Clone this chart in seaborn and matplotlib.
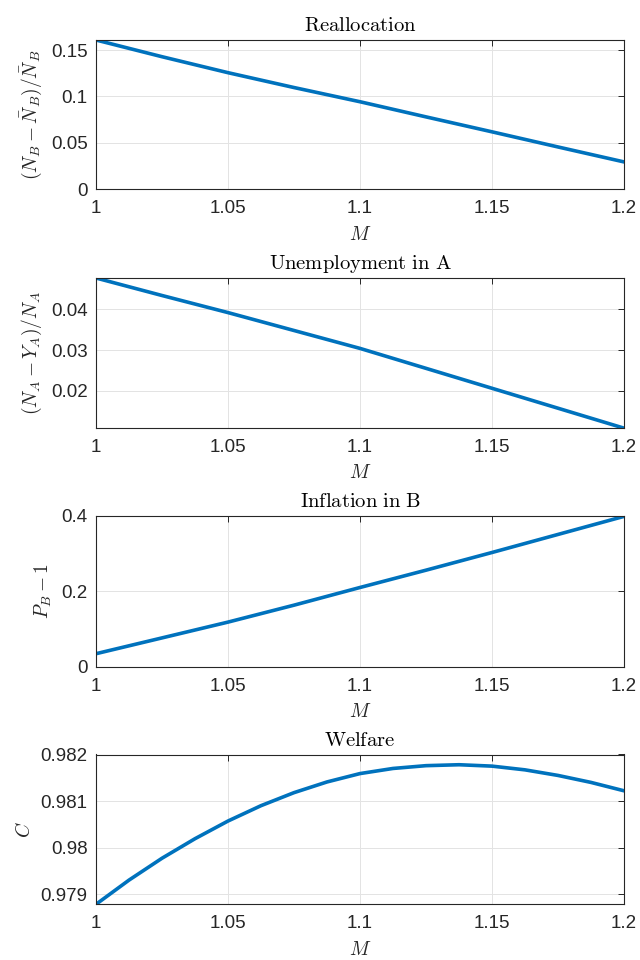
import numpy as np
import pandas as pd
import matplotlib
matplotlib.use("Agg")
import matplotlib.pyplot as plt
import seaborn as sns
from matplotlib.ticker import FuncFormatter

# ---- data ----
M = [1.0, 1.025, 1.05, 1.075, 1.1, 1.125, 1.15, 1.175, 1.2]
realloc = [0.1608, 0.1428, 0.1256, 0.1096, 0.0943, 0.0780, 0.0619, 0.0456, 0.0295]
unemp_A = [0.0477, 0.0434, 0.0392, 0.0348, 0.0304, 0.0255, 0.0206, 0.0157, 0.0108]
infl_B = [0.034, 0.076, 0.118, 0.163, 0.210, 0.256, 0.303, 0.351, 0.399]

M_welfare = [1.0, 1.0125, 1.025, 1.0375, 1.05, 1.0625, 1.075, 1.0875, 1.1,
             1.1125, 1.125, 1.1375, 1.15, 1.1625, 1.175, 1.1875, 1.2]
welfare = [0.97878, 0.97930, 0.97977, 0.98019, 0.98057, 0.98090, 0.98118, 0.98141, 0.98159,
           0.98170, 0.98176, 0.98178, 0.98175, 0.98167, 0.98155, 0.98140, 0.98122]

titles = ["Reallocation", "Unemployment in A", "Inflation in B", "Welfare"]
ylabels = [r"$(N_B-\bar{N}_B)/\bar{N}_B$", r"$(N_A-Y_A)/N_A$", r"$P_B-1$", r"$C$"]
xticks = [1.0, 1.05, 1.1, 1.15, 1.2]
yticks = [[0, 0.05, 0.1, 0.15], [0.02, 0.03, 0.04], [0, 0.2, 0.4], [0.979, 0.98, 0.981, 0.982]]
ylims = [(0, 0.1608), (0.01084, 0.0477), (0, 0.4), (0.97878, 0.98200)]
xs = [M, M, M, M_welfare]
series = [realloc, unemp_A, infl_B, welfare]

sns.set_theme(style="whitegrid")
plt.rcParams["font.family"] = ["Liberation Sans", "DejaVu Sans"]
plt.rcParams["mathtext.fontset"] = "cm"

fig = plt.figure(figsize=(6.4, 9.6), dpi=100)
fig.patch.set_facecolor("white")

tops = [40, 278, 516, 754.5]
bottoms = [189.3, 428, 666.5, 904.3]
left, right = 96, 624

fmt = FuncFormatter(lambda v, p: "%g" % round(v, 6))
dark = "#262626"

for i in range(4):
    b = 1 - bottoms[i] / 960
    h = (bottoms[i] - tops[i]) / 960
    ax = fig.add_axes([left / 640, b, (right - left) / 640, h])
    df = pd.DataFrame({"M": xs[i], "y": series[i]})
    sns.lineplot(data=df, x="M", y="y", ax=ax, color="#0072BD", linewidth=2.6)
    ax.set_xlim(1.0, 1.2)
    ax.set_ylim(*ylims[i])
    ax.set_xticks(xticks)
    ax.set_yticks(yticks[i])
    ax.xaxis.set_major_formatter(fmt)
    ax.yaxis.set_major_formatter(fmt)
    ax.set_facecolor("white")
    ax.grid(True, color="#e3e3e3", linewidth=0.7)
    for s in ax.spines.values():
        s.set_visible(True)
        s.set_color(dark)
        s.set_linewidth(0.8)
    ax.tick_params(direction="in", length=4, width=0.7, color=dark,
                   top=True, right=True, labelsize=13.5, labelcolor=dark)
    ax.tick_params(axis="x", pad=8)
    ax.tick_params(axis="y", pad=6)
    ax.annotate(r"$\mathrm{" + titles[i].replace(" ", r"\ ") + "}$",
                xy=(0.5, 1.0), xycoords="axes fraction",
                xytext=(0, 6.3), textcoords="offset points",
                ha="center", va="baseline", fontsize=14.8, color="black")
    ax.set_xlabel(r"$M$", fontsize=14, color=dark, labelpad=6)
    ax.set_ylabel(ylabels[i], fontsize=14, color=dark, labelpad=5)

fig.savefig("out.png", dpi=100, facecolor="white")
